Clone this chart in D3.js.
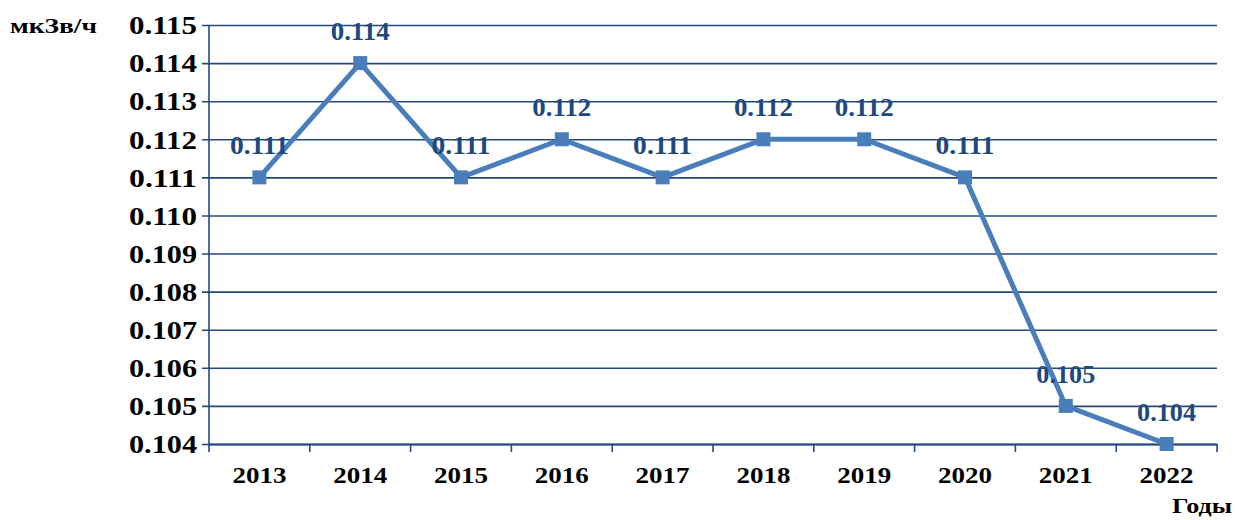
<!DOCTYPE html>
<html>
<head>
<meta charset="utf-8">
<script src="https://cdn.jsdelivr.net/npm/d3@7"></script>
<style>
  body { margin: 0; background: #fff; }
  svg text { font-family: "Liberation Serif", "Times New Roman", serif; font-weight: bold; }
</style>
</head>
<body>
<div id="chart"></div>
<script>
// data
const years = ['2013', '2014', '2015', '2016', '2017', '2018', '2019', '2020', '2021', '2022'];
const values = [0.111, 0.114, 0.111, 0.112, 0.111, 0.112, 0.112, 0.111, 0.105, 0.104];
const yTicks = [0.104, 0.105, 0.106, 0.107, 0.108, 0.109, 0.110, 0.111, 0.112, 0.113, 0.114, 0.115];

const W = 1235, H = 520;
const marginLeft = 209, marginRight = 18, marginTop = 25, marginBottom = 76;
const width = W - marginLeft - marginRight;
const height = H - marginTop - marginBottom;

const gridColor = '#24497e';
const lineColor = '#4a7ebb';
const labelColor = '#1f497d';
const fmt = d3.format('.3f');

const $svg = d3.select('#chart').append('svg')
  .attr('width', W).attr('height', H);

const $g = $svg.append('g')
  .attr('transform', `translate(${marginLeft}, ${marginTop})`);

// scales
const scaleX = d3.scaleBand().domain(years).range([0, width]);
const scaleY = d3.scaleLinear().domain([0.104, 0.115]).range([height, 0]);

// horizontal grid + y ticks
const $yAxis = $g.append('g').attr('class', 'y-axis')
  .call(d3.axisLeft(scaleY).tickValues(yTicks).tickFormat(fmt)
    .tickSize(-width).tickPadding(12));
$yAxis.select('.domain').remove();
$yAxis.selectAll('.tick line')
  .attr('x1', -7)
  .attr('stroke', gridColor).attr('stroke-width', 1.6);
$yAxis.selectAll('.tick text')
  .attr('font-size', 25).attr('fill', '#000')
  .attr('dy', '0.35em')
  .attr('textLength', 68).attr('lengthAdjust', 'spacingAndGlyphs');

// vertical axis line
$g.append('line')
  .attr('x1', 0).attr('x2', 0)
  .attr('y1', 0).attr('y2', height + 8)
  .attr('stroke', gridColor).attr('stroke-width', 1.6);

// x axis
const $xAxis = $g.append('g').attr('class', 'x-axis')
  .attr('transform', `translate(0, ${height})`)
  .call(d3.axisBottom(scaleX).tickSize(0).tickPadding(22));
$xAxis.select('.domain')
  .attr('stroke', gridColor).attr('stroke-width', 2.2);
$xAxis.selectAll('.tick text')
  .attr('font-size', 24).attr('fill', '#000')
  .attr('textLength', 54).attr('lengthAdjust', 'spacingAndGlyphs');

// band boundary ticks
const boundaries = years.map(y => scaleX(y)).concat([width]).slice(1);
$xAxis.selectAll('.bound')
  .data(boundaries)
  .enter().append('line')
  .attr('class', 'bound')
  .attr('x1', d => d).attr('x2', d => d)
  .attr('y1', 0).attr('y2', 8)
  .attr('stroke', gridColor).attr('stroke-width', 1.6);

const cx = d => scaleX(d) + scaleX.bandwidth() / 2;

// line
const line = d3.line()
  .x((d, i) => cx(years[i]))
  .y(d => scaleY(d));

$g.append('path')
  .datum(values)
  .attr('d', line)
  .attr('fill', 'none')
  .attr('stroke', lineColor)
  .attr('stroke-width', 5)
  .attr('stroke-linejoin', 'round');

// markers
const ms = 14;
$g.selectAll('.marker')
  .data(values)
  .enter().append('rect')
  .attr('class', 'marker')
  .attr('x', (d, i) => cx(years[i]) - ms / 2)
  .attr('y', d => scaleY(d) - ms / 2)
  .attr('width', ms).attr('height', ms)
  .attr('fill', lineColor);

// value labels
$g.selectAll('.val')
  .data(values)
  .enter().append('text')
  .attr('class', 'val')
  .attr('x', (d, i) => cx(years[i]))
  .attr('y', d => scaleY(d) - 23)
  .attr('text-anchor', 'middle')
  .attr('font-size', 25)
  .attr('fill', labelColor)
  .attr('textLength', 59).attr('lengthAdjust', 'spacingAndGlyphs')
  .text(d => fmt(d));

// axis titles
$svg.append('text')
  .attr('x', 10).attr('y', 33)
  .attr('font-size', 21)
  .attr('fill', '#000')
  .attr('textLength', 87).attr('lengthAdjust', 'spacingAndGlyphs')
  .text('мкЗв/ч');

$svg.append('text')
  .attr('x', 1172).attr('y', 513)
  .attr('font-size', 22)
  .attr('fill', '#000')
  .attr('textLength', 60).attr('lengthAdjust', 'spacingAndGlyphs')
  .text('Годы');
</script>
</body>
</html>
